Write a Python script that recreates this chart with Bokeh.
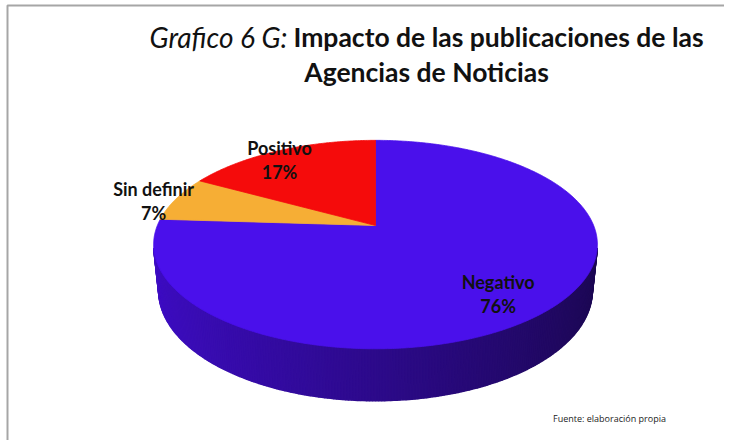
import numpy as np
from bokeh.plotting import figure
from bokeh.models import Range1d
from bokeh.core.properties import value
from bokeh.embed import file_html
from bokeh.resources import INLINE

# ---- data ----
categories = ["Negativo", "Sin definir", "Positivo"]
percent = [76, 7, 17]
top_colors = ["#4A10EB", "#F6AE35", "#F50B0B"]
label_names = ["Negativo", "Sin definir", "Positivo"]
label_pcts = ["76%", "7%", "17%"]
title_italic = "Grafico 6 G:"
title_bold_1 = "Impacto de las publicaciones de las"
title_bold_2 = "Agencias de Noticias"
source_text = "Fuente: elaboración propia"

# ---- 3D projection parameters (layout) ----
CX, CY = 375.0, 225.0
F, D, E = 1058.0, 4.85, np.radians(27.5)
H = 0.24
cE, sE = np.cos(E), np.sin(E)


def proj(X, Y, Z):
    depth = D + Y * cE - Z * sE
    up = Y * sE + Z * cE
    return CX + F * X / depth, CY - F * up / depth


p = figure(width=724, height=440, output_backend="svg", toolbar_location=None,
           x_range=Range1d(0, 724), y_range=Range1d(440, 0), min_border=0)
p.axis.visible = False
p.grid.visible = False
p.outline_line_color = None
p.background_fill_color = "white"

# chart border (top and left edges only)
p.line([7, 7, 724], [440, 5, 5], line_color="#A6A6A6", line_width=2)

cum = np.concatenate([[0], np.cumsum(percent)]) / 100.0 * 360.0

# ---- side wall ----
left_col = np.array([0x3E, 0x0D, 0xC4])
right_col = np.array([0x1C, 0x08, 0x52])
xs_side, ys_side, cols_side = [], [], []
for i in range(len(percent)):
    a0, a1 = cum[i], cum[i + 1]
    th = np.radians(np.linspace(a0, a1, max(int((a1 - a0) * 1.5), 2)))
    for j in range(len(th) - 1):
        t0, t1 = th[j], th[j + 1]
        ym = np.cos((t0 + t1) / 2)
        if ym >= -1.0 / (D * cE) + 0.02:
            continue
        X0, Y0 = np.sin(t0), np.cos(t0)
        X1, Y1 = np.sin(t1), np.cos(t1)
        pa = proj(X0, Y0, 0); pb = proj(X1, Y1, 0)
        pc = proj(X1, Y1, -H); pd = proj(X0, Y0, -H)
        xs_side.append([pa[0], pb[0], pc[0], pd[0]])
        ys_side.append([pa[1], pb[1], pc[1], pd[1]])
        xm = np.sin((t0 + t1) / 2)
        t = (xm + 1) / 2
        c = (left_col * (1 - t) + right_col * t).astype(int)
        cols_side.append("#%02X%02X%02X" % tuple(c))
p.patches(xs_side, ys_side, fill_color=cols_side, line_color=cols_side, line_width=1.6)

# ---- top faces ----
xs_top, ys_top = [], []
for i in range(len(percent)):
    a0, a1 = cum[i], cum[i + 1]
    th = np.radians(np.linspace(a0, a1, max(int((a1 - a0) * 2), 3)))
    px, py = proj(np.sin(th), np.cos(th), 0 * th)
    cx0, cy0 = proj(0.0, 0.0, 0.0)
    xs_top.append([cx0] + list(px))
    ys_top.append([cy0] + list(py))
p.patches(xs_top, ys_top, fill_color=top_colors, line_color=top_colors, line_width=0.8)

# ---- data labels ----
label_r = [0.74, 1.12, 1.0]
label_dy = [8, 5, 9]
for i in range(len(percent)):
    mid = np.radians((cum[i] + cum[i + 1]) / 2)
    lx, ly = proj(label_r[i] * np.sin(mid), label_r[i] * np.cos(mid), 0)
    ly += label_dy[i]
    p.text([lx], [ly - 12], text=[label_names[i]], text_align="center", text_baseline="middle",
           text_font=value("Lato"), text_font_style="bold", text_font_size="18px",
           text_color="#111111")
    p.text([lx], [ly + 12], text=[label_pcts[i]], text_align="center", text_baseline="middle",
           text_font=value("Lato"), text_font_style="bold", text_font_size="18px",
           text_color="#111111")

# ---- title ----
p.text([287], [36], text=[title_italic], text_align="right", text_baseline="middle",
       text_font=value("Lato"), text_font_style="italic", text_font_size="28px",
       text_color="#111111")
p.text([293], [36], text=[title_bold_1], text_align="left", text_baseline="middle",
       text_font=value("Lato"), text_font_style="bold", text_font_size="26.5px",
       text_color="#111111")
p.text([426], [71], text=[title_bold_2], text_align="center", text_baseline="middle",
       text_font=value("Lato"), text_font_style="bold", text_font_size="26.5px",
       text_color="#111111")

# ---- source ----
p.text([609], [418], text=[source_text], text_align="center", text_baseline="middle",
       text_font=value("Open Sans"), text_font_size="9px", text_color="#222222")

open("out.html", "w").write(file_html(p, INLINE))
